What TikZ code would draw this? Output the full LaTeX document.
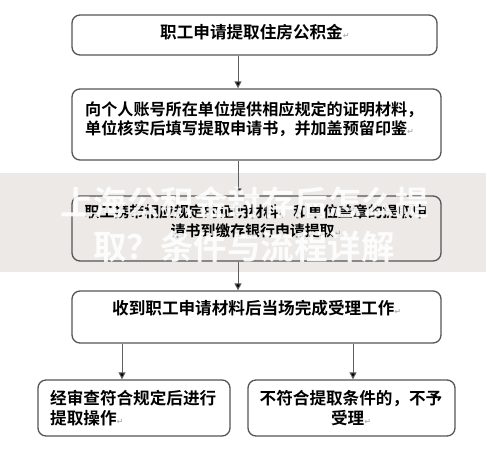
\documentclass[tikz,border=0pt]{standalone}
\usepackage{fontspec}
\newfontfamily\cjk{Noto Sans CJK SC}[BoldFont={Noto Sans CJK SC Bold}]
\newfontfamily\dv{DejaVu Sans}
\usetikzlibrary{arrows.meta}
\definecolor{bandgray}{RGB}{236,233,230}
\definecolor{edgegray}{RGB}{85,85,85}
\newcommand\pmk{{\dv\color{gray!60}\fontsize{8}{8}\selectfont ↵}}
\tikzset{
  box/.style={draw=edgegray, line width=1.3pt, rounded corners=8pt, fill=white, inner sep=0pt},
  txt/.style={font=\cjk\bfseries\fontsize{16.6}{20}\selectfont, inner sep=0pt, text=black},
  arr/.style={draw=gray!75!black, line width=1pt, -{Triangle[length=7pt,width=7pt,fill=black]}},
  wm/.style={font=\cjk\bfseries\fontsize{33.5}{40}\selectfont, text=white, text opacity=0.9, inner sep=0pt}
}
\begin{document}
\begin{tikzpicture}[x=1pt,y=-1pt]
\useasboundingbox (0,0) rectangle (486,453);
\fill[white] (0,0) rectangle (486,453);
\fill[bandgray] (0,173) rectangle (486,272);

\coordinate (cx) at (238,0);
\coordinate (lx) at (122,0);
\coordinate (rx) at (353,0);

\node[box, minimum width=365pt, minimum height=40pt] (b1) at (254.5,35) {};
\node[box, minimum width=369pt, minimum height=71pt] (b2) at (256.5,124.5) {};
\node[box, minimum width=369pt, minimum height=65pt, fill=bandgray] (b3) at (256.5,228.5) {};
\node[box, minimum width=369pt, minimum height=52pt] (b4) at (256.5,317) {};
\node[box, minimum width=192pt, minimum height=56pt] (b5) at (134,408) {};
\node[box, minimum width=207pt, minimum height=56pt] (b6) at (351.5,408) {};

\node[txt, anchor=west] (t1) at (160,32) {职工申请提取住房公积金\pmk};
\node[txt, anchor=west, align=left, font=\cjk\bfseries\fontsize{16.1}{18.5}\selectfont] (t2) at (85,119) {向个人账号所在单位提供相应规定的证明材料，\\单位核实后填写提取申请书，并加盖预留印鉴\pmk};
\node[txt, align=center, font=\cjk\bfseries\fontsize{14.9}{19}\selectfont] (t3) at (256,221.5) {职工携带相应规定的证明材料、和单位盖章的提取申\\请书到缴存银行申请提取\pmk};
\node[txt, anchor=west] (t4) at (112,308) {收到职工申请材料后当场完成受理工作\pmk};
\node[txt, anchor=west, align=left] (t5) at (50,408) {经审查符合规定后进行\\提取操作\pmk};
\node[txt, align=center] (t6) at (351,408) {不符合提取条件的，不予\\受理\pmk};

\draw[arr] (b1.south -| cx) -- (b2.north -| cx);
\draw[arr] (b2.south -| cx) -- (b3.north -| cx);
\draw[arr] (b3.south -| cx) -- (b4.north -| cx);
\draw[arr] (b4.south -| lx) -- (b5.north -| lx);
\draw[arr] (b4.south -| rx) -- (b6.north -| rx);

\node[wm, anchor=west] (w1) at (60,203) {上海公积金封存后怎么提};
\node[wm, anchor=west] (w2) at (93,247) {取？条件与流程详解};
\end{tikzpicture}
\end{document}
